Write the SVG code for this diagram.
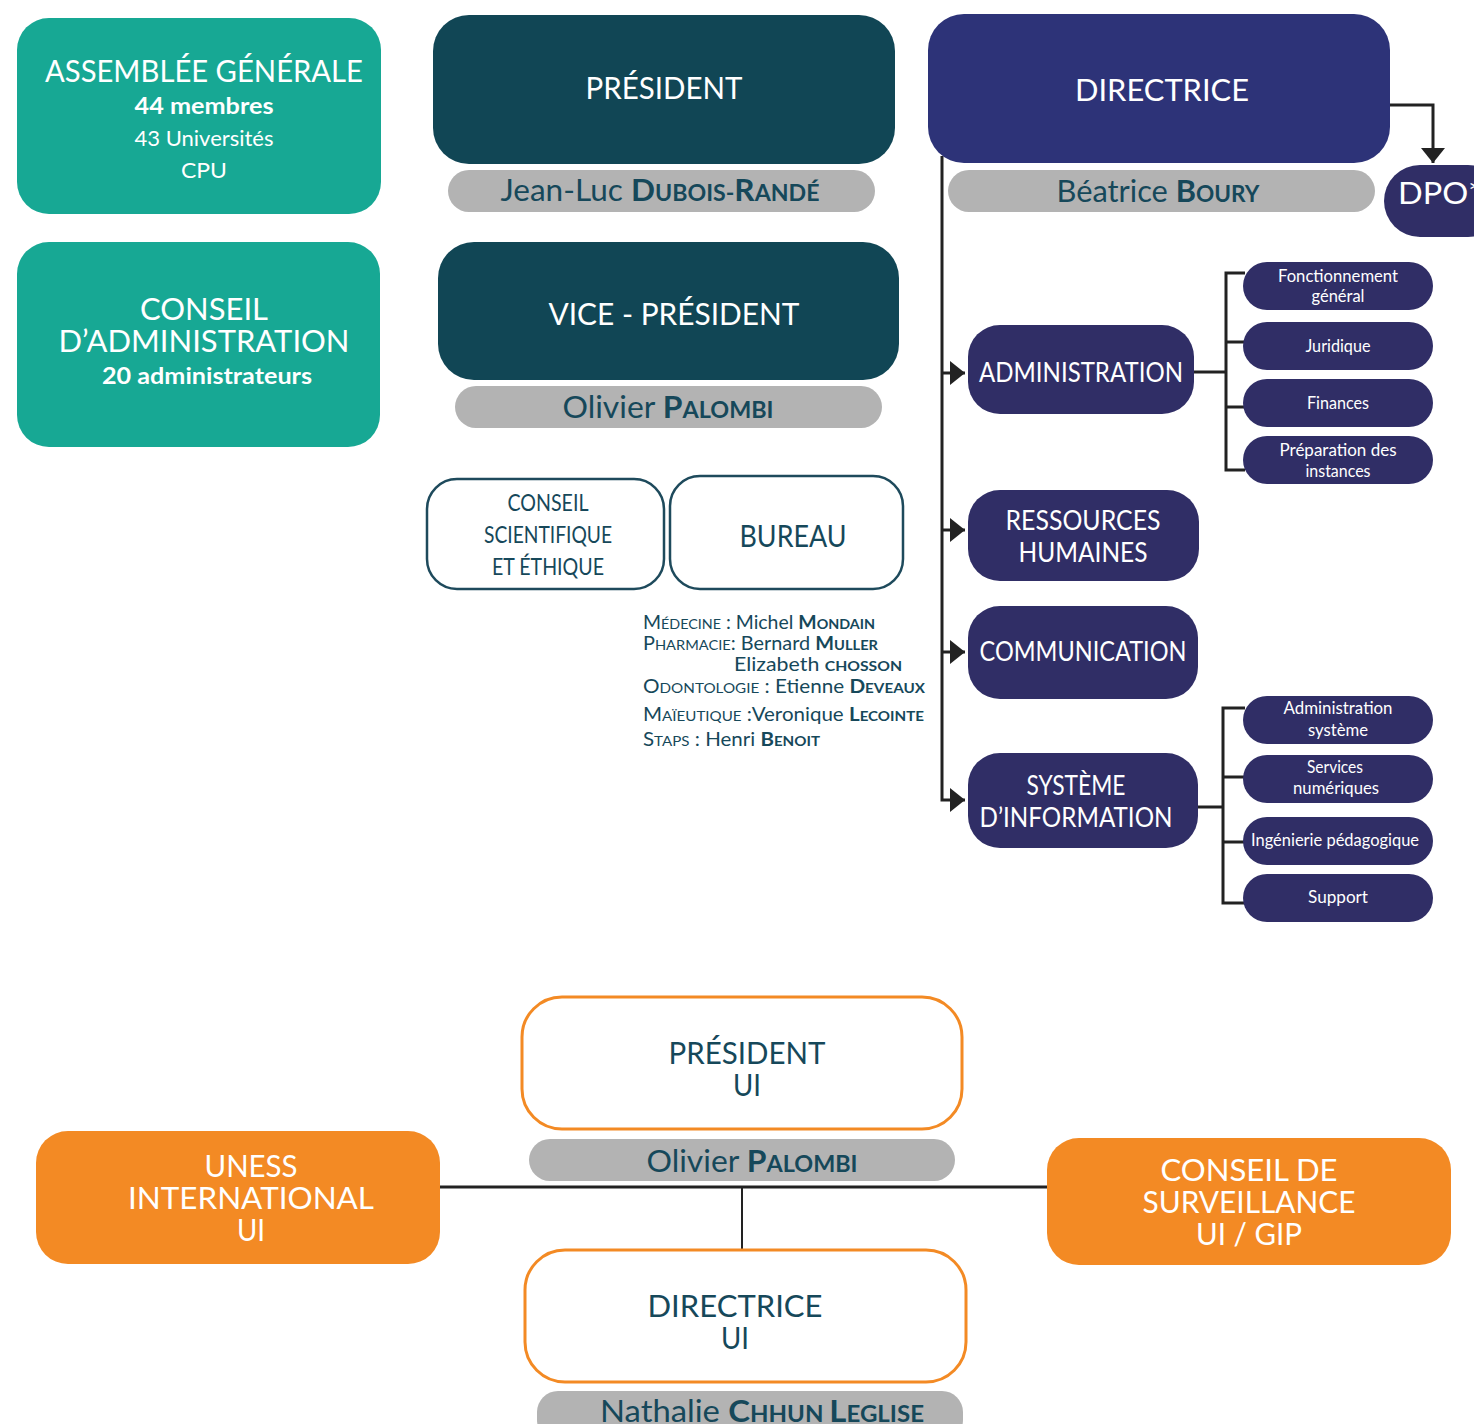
<svg xmlns="http://www.w3.org/2000/svg" width="1474" height="1424" viewBox="0 0 1474 1424">
<defs>
<marker id="arr" markerUnits="userSpaceOnUse" markerWidth="16" markerHeight="26" refX="15" refY="12" orient="auto" viewBox="0 0 16 26">
<path d="M0,0 L15,12 L0,24 z" fill="#222"/>
</marker>
</defs>
<style>
text{font-family:Lato,"Open Sans","Liberation Sans",sans-serif;text-anchor:middle}
.w{fill:#fff}
.d{fill:#16485a}
.b{font-weight:700}
.teal{fill:#17a894}
.dteal{fill:#114655}
.navy{fill:#2d3378}
.sub{fill:#302e66}
.pill{fill:#b3b3b3}
.org{fill:#f38a24}
.obox{fill:#fff;stroke:#f38a24;stroke-width:3}
.tbox{fill:#fff;stroke:#1e4a5c;stroke-width:2.5}
.ln{fill:none;stroke:#222;stroke-width:3}
.ln2{fill:none;stroke:#222;stroke-width:2}
.l{text-anchor:start}
</style>

<g id="connectors">
<path class="ln" d="M1390,105 H1433 V163" marker-end="url(#arr)"/>
<path class="ln" d="M942,156 V800 H965" marker-end="url(#arr)"/>
<path class="ln" d="M942,373 H965" marker-end="url(#arr)"/>
<path class="ln" d="M942,530 H965" marker-end="url(#arr)"/>
<path class="ln" d="M942,652 H965" marker-end="url(#arr)"/>
<path class="ln" d="M1194,372 H1226 M1245,273 H1226 V470 H1245 M1226,342 H1245 M1226,407 H1245"/>
<path class="ln" d="M1198,807 H1223 M1245,708 H1223 V903 H1245 M1223,777 H1245 M1223,842 H1245"/>
<path class="ln" d="M440,1187 H1047"/>
<path class="ln2" d="M742,1187 V1250"/>
</g>

<g id="assemblee">
<rect class="teal" x="17" y="18" width="364" height="196" rx="32"/>
<text class="w" x="204" y="82" font-size="30" textLength="318" lengthAdjust="spacingAndGlyphs">ASSEMBLÉE GÉNÉRALE</text>
<text class="w b" x="204" y="114" font-size="22" textLength="139" lengthAdjust="spacingAndGlyphs">44 membres</text>
<text class="w" x="204" y="146" font-size="21" textLength="139" lengthAdjust="spacingAndGlyphs">43 Universités</text>
<text class="w" x="204" y="178" font-size="21" textLength="46" lengthAdjust="spacingAndGlyphs">CPU</text>
</g>

<g id="conseil-admin">
<rect class="teal" x="17" y="242" width="363" height="205" rx="32"/>
<text class="w" x="204" y="320" font-size="30" textLength="128" lengthAdjust="spacingAndGlyphs">CONSEIL</text>
<text class="w" x="204" y="352" font-size="30" textLength="291" lengthAdjust="spacingAndGlyphs">D’ADMINISTRATION</text>
<text class="w b" x="207" y="384" font-size="22" textLength="210" lengthAdjust="spacingAndGlyphs">20 administrateurs</text>
</g>

<g id="president">
<rect class="dteal" x="433" y="15" width="462" height="149" rx="36"/>
<text class="w" x="664" y="99" font-size="30" textLength="157" lengthAdjust="spacingAndGlyphs">PRÉSIDENT</text>
<rect class="pill" x="448" y="170" width="427" height="42" rx="21"/>
<text class="d" x="660" y="201" font-size="30" textLength="319" lengthAdjust="spacingAndGlyphs">Jean-Luc <tspan class="b">D</tspan><tspan class="b" font-size="22">UBOIS-</tspan><tspan class="b">R</tspan><tspan class="b" font-size="22">ANDÉ</tspan></text>
</g>

<g id="vice-president">
<rect class="dteal" x="438" y="242" width="461" height="138" rx="36"/>
<text class="w" x="674" y="325" font-size="30" textLength="251" lengthAdjust="spacingAndGlyphs">VICE - PRÉSIDENT</text>
<rect class="pill" x="455" y="386" width="427" height="42" rx="21"/>
<text class="d" x="668" y="418" font-size="30" textLength="211" lengthAdjust="spacingAndGlyphs">Olivier <tspan class="b">P</tspan><tspan class="b" font-size="22">ALOMBI</tspan></text>
</g>

<g id="directrice">
<rect class="navy" x="928" y="14" width="462" height="149" rx="36"/>
<text class="w" x="1162" y="101" font-size="30" textLength="174" lengthAdjust="spacingAndGlyphs">DIRECTRICE</text>
<rect class="pill" x="948" y="170" width="427" height="42" rx="21"/>
<text class="d" x="1158" y="202" font-size="30" textLength="203" lengthAdjust="spacingAndGlyphs">Béatrice <tspan class="b">B</tspan><tspan class="b" font-size="22">OURY</tspan></text>
</g>

<g id="dpo">
<rect class="sub" x="1384" y="165" width="120" height="72" rx="36"/>
<text class="w l" x="1398" y="204" font-size="30" textLength="84" lengthAdjust="spacingAndGlyphs">DPO*</text>
</g>

<g id="administration">
<rect class="sub" x="968" y="325" width="226" height="89" rx="32"/>
<text class="w" x="1081" y="382" font-size="26" textLength="204" lengthAdjust="spacingAndGlyphs">ADMINISTRATION</text>
</g>
<g id="rh">
<rect class="sub" x="968" y="490" width="231" height="91" rx="32"/>
<text class="w" x="1083" y="530" font-size="26" textLength="155" lengthAdjust="spacingAndGlyphs">RESSOURCES</text>
<text class="w" x="1083" y="562" font-size="26" textLength="129" lengthAdjust="spacingAndGlyphs">HUMAINES</text>
</g>
<g id="communication">
<rect class="sub" x="968" y="606" width="230" height="93" rx="32"/>
<text class="w" x="1083" y="661" font-size="26" textLength="207" lengthAdjust="spacingAndGlyphs">COMMUNICATION</text>
</g>
<g id="si">
<rect class="sub" x="968" y="753" width="230" height="95" rx="32"/>
<text class="w" x="1076" y="795" font-size="26" textLength="99" lengthAdjust="spacingAndGlyphs">SYSTÈME</text>
<text class="w" x="1076" y="827" font-size="26" textLength="193" lengthAdjust="spacingAndGlyphs">D’INFORMATION</text>
</g>

<g id="fonctionnement">
<rect class="sub" x="1243" y="262" width="190" height="48" rx="24"/>
<text class="w" x="1338" y="282" font-size="18" textLength="120" lengthAdjust="spacingAndGlyphs">Fonctionnement</text>
<text class="w" x="1338" y="302" font-size="18" textLength="53" lengthAdjust="spacingAndGlyphs">général</text>
</g>
<g id="juridique">
<rect class="sub" x="1243" y="322" width="190" height="48" rx="24"/>
<text class="w" x="1338" y="352" font-size="18" textLength="65" lengthAdjust="spacingAndGlyphs">Juridique</text>
</g>
<g id="finances">
<rect class="sub" x="1243" y="379" width="190" height="48" rx="24"/>
<text class="w" x="1338" y="409" font-size="18" textLength="62" lengthAdjust="spacingAndGlyphs">Finances</text>
</g>
<g id="preparation">
<rect class="sub" x="1243" y="436" width="190" height="48" rx="24"/>
<text class="w" x="1338" y="456" font-size="18" textLength="117" lengthAdjust="spacingAndGlyphs">Préparation des</text>
<text class="w" x="1338" y="477" font-size="18" textLength="65" lengthAdjust="spacingAndGlyphs">instances</text>
</g>

<g id="admin-systeme">
<rect class="sub" x="1243" y="696" width="190" height="48" rx="24"/>
<text class="w" x="1338" y="714" font-size="18" textLength="109" lengthAdjust="spacingAndGlyphs">Administration</text>
<text class="w" x="1338" y="736" font-size="18" textLength="60" lengthAdjust="spacingAndGlyphs">système</text>
</g>
<g id="services">
<rect class="sub" x="1243" y="755" width="190" height="48" rx="24"/>
<text class="w" x="1335" y="773" font-size="18" textLength="56" lengthAdjust="spacingAndGlyphs">Services</text>
<text class="w" x="1336" y="794" font-size="18" textLength="86" lengthAdjust="spacingAndGlyphs">numériques</text>
</g>
<g id="ingenierie">
<rect class="sub" x="1243" y="817" width="190" height="48" rx="24"/>
<text class="w" x="1335" y="846" font-size="18" textLength="168" lengthAdjust="spacingAndGlyphs">Ingénierie pédagogique</text>
</g>
<g id="support">
<rect class="sub" x="1243" y="874" width="190" height="48" rx="24"/>
<text class="w" x="1338" y="903" font-size="18" textLength="60" lengthAdjust="spacingAndGlyphs">Support</text>
</g>

<g id="conseil-scientifique">
<rect class="tbox" x="427" y="479" width="237" height="110" rx="30"/>
<text class="d" x="548" y="511" font-size="24" textLength="81" lengthAdjust="spacingAndGlyphs">CONSEIL</text>
<text class="d" x="548" y="543" font-size="24" textLength="128" lengthAdjust="spacingAndGlyphs">SCIENTIFIQUE</text>
<text class="d" x="548" y="575" font-size="24" textLength="112" lengthAdjust="spacingAndGlyphs">ET ÉTHIQUE</text>
</g>
<g id="bureau">
<rect class="tbox" x="670" y="476" width="233" height="113" rx="30"/>
<text class="d" x="793" y="547" font-size="30" textLength="107" lengthAdjust="spacingAndGlyphs">BUREAU</text>
</g>

<g id="bureau-membres" class="d">
<text class="d l" x="643" y="629" font-size="19" textLength="232" lengthAdjust="spacingAndGlyphs">M<tspan font-size="14">ÉDECINE</tspan> : Michel <tspan class="b">M</tspan><tspan class="b" font-size="14">ONDAIN</tspan></text>
<text class="d l" x="643" y="650" font-size="19" textLength="235" lengthAdjust="spacingAndGlyphs">P<tspan font-size="14">HARMACIE</tspan>: Bernard <tspan class="b">M</tspan><tspan class="b" font-size="14">ULLER</tspan></text>
<text class="d l" x="734" y="671" font-size="19" textLength="168" lengthAdjust="spacingAndGlyphs">Elizabeth  <tspan class="b" font-size="14">CHOSSON</tspan></text>
<text class="d l" x="643" y="693" font-size="19" textLength="282" lengthAdjust="spacingAndGlyphs">O<tspan font-size="14">DONTOLOGIE</tspan> : Etienne <tspan class="b">D</tspan><tspan class="b" font-size="14">EVEAUX</tspan></text>
<text class="d l" x="643" y="721" font-size="19" textLength="281" lengthAdjust="spacingAndGlyphs">M<tspan font-size="14">AÏEUTIQUE</tspan> :Veronique <tspan class="b">L</tspan><tspan class="b" font-size="14">ECOINTE</tspan></text>
<text class="d l" x="643" y="746" font-size="19" textLength="177" lengthAdjust="spacingAndGlyphs">S<tspan font-size="14">TAPS</tspan> : Henri <tspan class="b">B</tspan><tspan class="b" font-size="14">ENOIT</tspan></text>
</g>

<g id="president-ui">
<rect class="obox" x="522" y="997" width="440" height="132" rx="40"/>
<text class="d" x="747" y="1064" font-size="30" textLength="157" lengthAdjust="spacingAndGlyphs">PRÉSIDENT</text>
<text class="d" x="747" y="1096" font-size="30" textLength="28" lengthAdjust="spacingAndGlyphs">UI</text>
<rect class="pill" x="529" y="1139" width="426" height="42" rx="21"/>
<text class="d" x="752" y="1172" font-size="30" textLength="211" lengthAdjust="spacingAndGlyphs">Olivier <tspan class="b">P</tspan><tspan class="b" font-size="22">ALOMBI</tspan></text>
</g>

<g id="uness">
<rect class="org" x="36" y="1131" width="404" height="133" rx="32"/>
<text class="w" x="251" y="1177" font-size="30" textLength="93" lengthAdjust="spacingAndGlyphs">UNESS</text>
<text class="w" x="251" y="1209" font-size="30" textLength="246" lengthAdjust="spacingAndGlyphs">INTERNATIONAL</text>
<text class="w" x="251" y="1241" font-size="30" textLength="28" lengthAdjust="spacingAndGlyphs">UI</text>
</g>

<g id="conseil-surveillance">
<rect class="org" x="1047" y="1138" width="404" height="127" rx="32"/>
<text class="w" x="1249" y="1181" font-size="30" textLength="177" lengthAdjust="spacingAndGlyphs">CONSEIL DE</text>
<text class="w" x="1249" y="1213" font-size="30" textLength="213" lengthAdjust="spacingAndGlyphs">SURVEILLANCE</text>
<text class="w" x="1249" y="1245" font-size="30" textLength="106" lengthAdjust="spacingAndGlyphs">UI / GIP</text>
</g>

<g id="directrice-ui">
<rect class="obox" x="525" y="1250" width="441" height="132" rx="40"/>
<text class="d" x="735" y="1317" font-size="30" textLength="175" lengthAdjust="spacingAndGlyphs">DIRECTRICE</text>
<text class="d" x="735" y="1349" font-size="30" textLength="28" lengthAdjust="spacingAndGlyphs">UI</text>
<rect class="pill" x="537" y="1391" width="426" height="50" rx="21"/>
<text class="d" x="762" y="1422" font-size="30" textLength="324" lengthAdjust="spacingAndGlyphs">Nathalie <tspan class="b">C</tspan><tspan class="b" font-size="22">HHUN </tspan><tspan class="b">L</tspan><tspan class="b" font-size="22">EGLISE</tspan></text>
</g>
</svg>
